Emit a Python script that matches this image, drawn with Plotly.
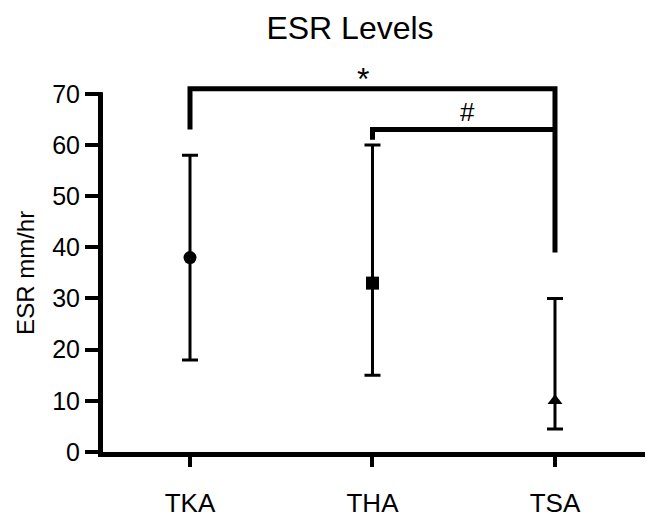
import plotly.graph_objects as go

# ---- data ----
categories = ["TKA", "THA", "TSA"]
means = [38, 33, 10]
upper = [58, 60, 30]
lower = [18, 15, 4.5]
symbols = ["circle", "square", "triangle-up"]

y_ticks = [0, 10, 20, 30, 40, 50, 60, 70]

# significance brackets: (left idx, right idx, bar height, left drop end, right drop end, label)
sig_left = [0, 1]
sig_right = [2, 2]
sig_height = [71, 63]
sig_left_end = [63, 61]
sig_right_end = [39, 63]
sig_label = ["*", "#"]
sig_label_x = [0.95, 1.52]
sig_label_size = [32, 26]
sig_label_shift = [-10, 1]

FONT = "Arial, Liberation Sans, sans-serif"

xs = list(range(len(categories)))
err_plus = [u - m for u, m in zip(upper, means)]
err_minus = [m - l for m, l in zip(means, lower)]

fig = go.Figure()
fig.add_trace(go.Scatter(
    x=xs, y=means, mode="markers",
    marker=dict(symbol=symbols, size=13, color="black", line=dict(width=0)),
    error_y=dict(type="data", symmetric=False, array=err_plus, arrayminus=err_minus,
                 color="black", thickness=3, width=8),
    showlegend=False, cliponaxis=False,
))

shapes = []
# y axis line (ends at the 70 tick)
shapes.append(dict(type="rect", xref="paper", xsizemode="pixel", xanchor=0, x0=-5, x1=0,
                   yref="y", y0=0, y1=y_ticks[-1] + 0.3, fillcolor="black", line=dict(width=0),
                   layer="above"))
# corner patch
shapes.append(dict(type="rect", xref="paper", xsizemode="pixel", xanchor=0, x0=-5, x1=0,
                   yref="paper", ysizemode="pixel", yanchor=0, y0=-5, y1=0,
                   fillcolor="black", line=dict(width=0), layer="above"))

annotations = []
for l, r, h, le, re_, lab, lx, ls, lsh in zip(sig_left, sig_right, sig_height, sig_left_end,
                                               sig_right_end, sig_label, sig_label_x,
                                               sig_label_size, sig_label_shift):
    path = f"M {l},{le} L {l},{h} L {r},{h} L {r},{re_}"
    shapes.append(dict(type="path", xref="x", yref="y", path=path,
                       line=dict(color="black", width=5)))
    annotations.append(dict(x=lx, y=h, xref="x", yref="y", text=lab, showarrow=False,
                            yanchor="bottom", yshift=lsh,
                            font=dict(family=FONT, size=ls, color="black")))

# y axis title
annotations.append(dict(x=0, xref="paper", xshift=-77, y=35, yref="y", text="ESR mm/hr",
                        textangle=-90, showarrow=False, xanchor="center", yanchor="middle",
                        font=dict(family=FONT, size=24, color="black")))

fig.update_layout(
    width=647, height=520,
    margin=dict(l=103, r=2, t=80, b=62),
    paper_bgcolor="white", plot_bgcolor="white",
    font=dict(family=FONT, color="black"),
    title=dict(text="ESR Levels", x=350 / 647, xanchor="center", xref="container",
               y=1 - 28 / 520, yanchor="middle", yref="container",
               font=dict(family=FONT, size=32, color="black")),
    shapes=shapes, annotations=annotations,
)
fig.update_xaxes(range=[-0.4767, 2.4932], tickvals=xs, ticktext=categories,
                 showgrid=False, zeroline=False, showline=True, linewidth=5, linecolor="black",
                 ticks="outside", ticklen=10, tickwidth=4, tickcolor="black",
                 ticklabelstandoff=14, tickfont=dict(family=FONT, size=26, color="black"))
fig.update_yaxes(range=[0, 72.69], tickvals=y_ticks, showgrid=False, zeroline=False,
                 showline=False, ticks="outside", ticklen=17, tickwidth=4, tickcolor="black",
                 tickfont=dict(family=FONT, size=25, color="black"))

fig.write_html("out.html", config={"displayModeBar": False},
               post_script="document.body.style.margin='0';document.body.style.overflow='hidden';")
